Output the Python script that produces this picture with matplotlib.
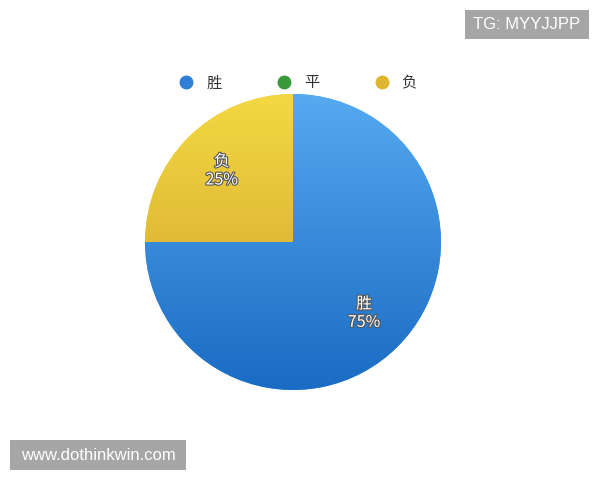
import numpy as np
import matplotlib
matplotlib.use("Agg")
import matplotlib.pyplot as plt
import matplotlib.patheffects as pe
from matplotlib.colors import LinearSegmentedColormap
from matplotlib.lines import Line2D
from matplotlib.patches import Rectangle

plt.rcParams['font.family'] = ['Noto Sans CJK SC', 'DejaVu Sans']

categories = ['胜', '平', '负']
values = [75, 0, 25]
top_colors = ['#55aaf0', '#5cb85c', '#f4d843']
bottom_colors = ['#1a6bc3', '#2e8b2e', '#cc9f28']
legend_colors = ['#2f7fd6', '#3a9a3a', '#e0b630']

W, H = 600, 480
fig = plt.figure(figsize=(6, 4.8), dpi=100)
fig.patch.set_facecolor('white')
ax = fig.add_axes([145/W, 90/H, 296/W, 296/H])

wedges, _ = ax.pie(values, startangle=90, counterclock=False,
                   colors=top_colors, radius=1.0,
                   wedgeprops=dict(linewidth=0))
ax.set_xlim(-1, 1)
ax.set_ylim(-1, 1)
ax.set_aspect('equal')
ax.axis('off')

grad = np.linspace(0, 1, 256).reshape(-1, 1)
for w, v, tc, bc in zip(wedges, values, top_colors, bottom_colors):
    if v == 0:
        continue
    cmap = LinearSegmentedColormap.from_list('g', [tc, bc])
    im = ax.imshow(grad, extent=(-1, 1, -1, 1), cmap=cmap, aspect='auto',
                   origin='upper', zorder=w.get_zorder() + 0.1)
    im.set_clip_path(w)
    ax.set_xlim(-1, 1)
    ax.set_ylim(-1, 1)

for w, v, name in zip(wedges, values, categories):
    if v == 0:
        continue
    mid = np.deg2rad((w.theta1 + w.theta2) / 2)
    d = 0.68
    ax.text(d * np.cos(mid), d * np.sin(mid), f'{name}\n{v}%',
            ha='center', va='center', color='white', fontsize=11.5,
            linespacing=1.1, zorder=10,
            path_effects=[pe.withStroke(linewidth=1.6, foreground='#555555')])

handles = [Line2D([0], [0], marker='o', linestyle='', markersize=9,
                  markerfacecolor=c, markeredgecolor=c) for c in legend_colors]
fig.legend(handles, categories, loc='center', bbox_to_anchor=(0.49, 1 - 83/H),
           ncol=3, frameon=False, fontsize=11, columnspacing=3.1,
           handletextpad=0.3, labelcolor='#333333')

fig.add_artist(Rectangle((465/W, 1 - 39/H), 124/W, 29/H, transform=fig.transFigure,
                         facecolor='#a6a6a6', edgecolor='none'))
fig.text(527/W, 1 - 24.5/H, 'TG: MYYJJPP', ha='center', va='center',
         color='white', fontsize=12, family='Liberation Sans')
fig.add_artist(Rectangle((10/W, 1 - 470/H), 176/W, 30/H, transform=fig.transFigure,
                         facecolor='#a6a6a6', edgecolor='none'))
fig.text(98/W, 1 - 455/H, 'www.dothinkwin.com', ha='center', va='center',
         color='white', fontsize=12, family='Liberation Sans')

fig.savefig('out.png', dpi=100, facecolor='white')
